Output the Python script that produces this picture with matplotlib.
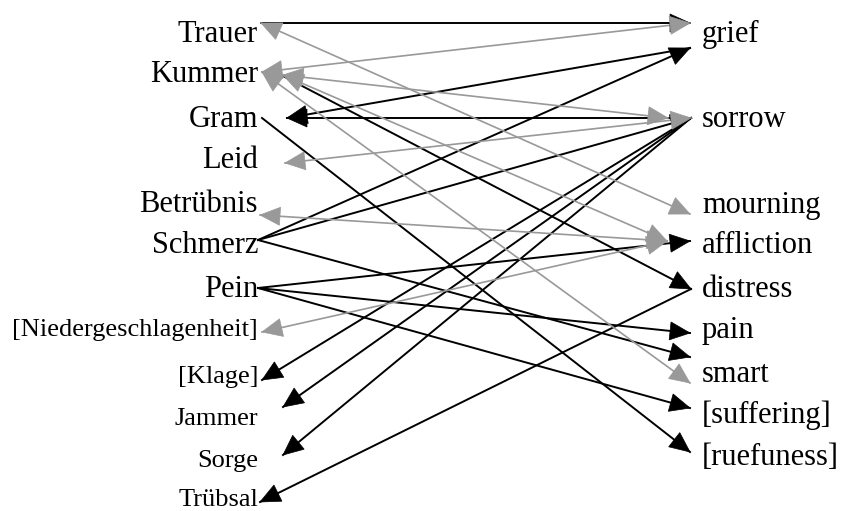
import numpy as np
import matplotlib.pyplot as plt
from matplotlib.patches import Polygon

german = ["Trauer", "Kummer", "Gram", "Leid", "Betrübnis", "Schmerz", "Pein",
          "[Niedergeschlagenheit]", "[Klage]", "Jammer", "Sorge", "Trübsal"]
english = ["grief", "sorrow", "mourning", "affliction", "distress", "pain",
           "smart", "[suffering]", "[ruefuness]"]

# black = one-way link, gray = link both ways
black_edges = [
    ("Trauer", "grief"), ("sorrow", "Gram"), ("grief", "Gram"),
    ("Gram", "[ruefuness]"), ("Kummer", "distress"),
    ("Schmerz", "grief"), ("Schmerz", "sorrow"), ("Schmerz", "smart"),
    ("Pein", "affliction"), ("Pein", "pain"), ("Pein", "[suffering]"),
    ("sorrow", "[Klage]"), ("sorrow", "Jammer"), ("sorrow", "Sorge"),
    ("distress", "Trübsal"),
]
gray_edges = [
    ("Trauer", "mourning"), ("Kummer", "grief"), ("Kummer", "sorrow"),
    ("Kummer", "affliction"), ("Kummer", "smart"), ("Leid", "sorrow"),
    ("Betrübnis", "affliction"), ("[Niedergeschlagenheit]", "affliction"),
]

# layout (pixels)
W, H = 843, 511
left_base = [42, 82, 127, 168, 212, 253, 297, 336, 383, 425, 467, 506]
left_size = [22] * 7 + [19] * 5
right_base = [42, 127, 213, 253, 297, 338, 382, 423, 465]
port = {
    "Trauer": (261, 23), "Kummer": (262, 72), "Gram": (262, 118),
    "Leid": (285, 163), "Betrübnis": (260, 215), "Schmerz": (258, 240),
    "Pein": (258, 288), "[Niedergeschlagenheit]": (262, 332),
    "[Klage]": (262, 380), "Jammer": (283, 407), "Sorge": (283, 455),
    "Trübsal": (260, 502),
    "grief": (690, 23), "sorrow": (691, 118), "mourning": (690, 214),
    "affliction": (690, 241), "distress": (691, 289), "pain": (690, 333),
    "smart": (690, 383), "[suffering]": (690, 408), "[ruefuness]": (690, 452),
}
# some edges meet a node at a different spot
port_fix = {
    (("sorrow", "Gram"), "Gram"): (287, 118),
    (("grief", "Gram"), "Gram"): (287, 118),
    (("grief", "Gram"), "grief"): (690, 48),
    (("Schmerz", "grief"), "grief"): (690, 48),
    (("Kummer", "distress"), "Kummer"): (283, 76),
    (("Kummer", "sorrow"), "Kummer"): (283, 75),
    (("Kummer", "affliction"), "Kummer"): (283, 75),
    (("Kummer", "sorrow"), "sorrow"): (668, 118),
    (("Kummer", "affliction"), "affliction"): (667, 241),
    (("Betrübnis", "affliction"), "affliction"): (667, 241),
    (("[Niedergeschlagenheit]", "affliction"), "affliction"): (667, 241),
    (("Schmerz", "smart"), "smart"): (690, 357),
}

GRAY = "#999999"
HEAD_L, HEAD_W = 20, 9


def end_point(edge, node):
    return np.array(port_fix.get((edge, node), port[node]), dtype=float)


def draw_head(ax, start, tip, color):
    u = (tip - start) / np.hypot(*(tip - start))
    n = np.array([-u[1], u[0]])
    base = tip - HEAD_L * u
    pts = [tip, base + HEAD_W * n, base - HEAD_W * n]
    ax.add_patch(Polygon(pts, closed=True, facecolor=color, edgecolor=color,
                         lw=0.5, zorder=3))


fig = plt.figure(figsize=(W / 100, H / 100), dpi=100)
ax = fig.add_axes([0, 0, 1, 1])
ax.set_xlim(0, W)
ax.set_ylim(H, 0)
ax.axis("off")

for edge in black_edges:
    a = end_point(edge, edge[0])
    b = end_point(edge, edge[1])
    ax.plot([a[0], b[0]], [a[1], b[1]], color="black", lw=1.4, zorder=2)
    draw_head(ax, a, b, "black")

for edge in gray_edges:
    a = end_point(edge, edge[0])
    b = end_point(edge, edge[1])
    ax.plot([a[0], b[0]], [a[1], b[1]], color=GRAY, lw=1.2, zorder=2)
    draw_head(ax, a, b, GRAY)
    draw_head(ax, b, a, GRAY)

for word, y, fs in zip(german, left_base, left_size):
    ax.text(258, y, word, ha="right", va="baseline", fontsize=fs,
            family="Liberation Serif")
for word, y in zip(english, right_base):
    ax.text(702, y, word, ha="left", va="baseline", fontsize=22,
            family="Liberation Serif")

fig.savefig("out.png", dpi=100)
